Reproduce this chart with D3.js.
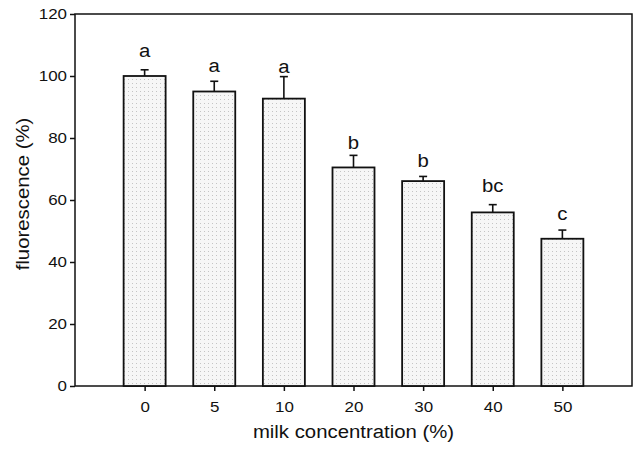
<!DOCTYPE html>
<html>
<head>
<meta charset="utf-8">
<script src="https://cdn.jsdelivr.net/npm/d3@7"></script>
<style>
  body { margin: 0; background: #fff; }
  text { font-family: "Liberation Sans", Arial, sans-serif; fill: #111; }
</style>
</head>
<body>
<div id="chart"></div>
<script>
// data
var concentrations = ["0", "5", "10", "20", "30", "40", "50"];
var fluorescence = [100, 95, 92.7, 70.5, 66.1, 56, 47.5];
var errors = [2, 3.3, 7.1, 3.9, 1.5, 2.5, 2.8];
var letters = ["a", "a", "a", "b", "b", "bc", "c"];
var letterPos = [106, 101.4, 101.1, 76.3, 70.7, 62.7, 53.5];
var yTicks = [0, 20, 40, 60, 80, 100, 120];

var W = 635, H = 454;
var margin = {top: 14, right: 3, bottom: 68, left: 75},
  width = W - margin.left - margin.right,
  height = H - margin.top - margin.bottom;

var svg = d3.select("#chart").append("svg")
  .attr("width", W)
  .attr("height", H);

// dotted grey fill like the printed stipple
var defs = svg.append("defs");
var pat = defs.append("pattern")
  .attr("id", "dots")
  .attr("patternUnits", "userSpaceOnUse")
  .attr("width", 4).attr("height", 4);
pat.append("rect").attr("width", 4).attr("height", 4).attr("fill", "#f6f6f6");
pat.append("rect").attr("x", 1).attr("y", 1).attr("width", 1).attr("height", 1).attr("fill", "#c4c4c4");

var g = svg.append("g")
  .attr("transform", "translate(" + margin.left + "," + margin.top + ")");

var x = d3.scalePoint()
  .domain(concentrations)
  .range([0, width])
  .padding(1);

var y = d3.scaleLinear()
  .domain([0, 120])
  .range([height, 0]);

var barW = 42;

// frame
g.append("rect")
  .attr("width", width).attr("height", height)
  .attr("fill", "none")
  .attr("stroke", "#111")
  .attr("stroke-width", 1.5);

// bars
g.selectAll(".bar")
  .data(fluorescence)
  .enter().append("rect")
  .attr("class", "bar")
  .attr("x", function(d, i) { return x(concentrations[i]) - barW / 2; })
  .attr("y", function(d) { return y(d); })
  .attr("width", barW)
  .attr("height", function(d) { return height - y(d); })
  .attr("fill", "url(#dots)")
  .attr("stroke", "#111")
  .attr("stroke-width", 1.8);

// error bars (upper only)
var eb = g.selectAll(".err")
  .data(fluorescence)
  .enter().append("g")
  .attr("class", "err")
  .attr("stroke", "#111")
  .attr("stroke-width", 1.6);
eb.append("line")
  .attr("x1", function(d, i) { return x(concentrations[i]); })
  .attr("x2", function(d, i) { return x(concentrations[i]); })
  .attr("y1", function(d) { return y(d); })
  .attr("y2", function(d, i) { return y(d + errors[i]); });
eb.append("line")
  .attr("x1", function(d, i) { return x(concentrations[i]) - 4; })
  .attr("x2", function(d, i) { return x(concentrations[i]) + 4; })
  .attr("y1", function(d, i) { return y(d + errors[i]); })
  .attr("y2", function(d, i) { return y(d + errors[i]); });

// significance letters
g.selectAll(".letter")
  .data(letters)
  .enter().append("text")
  .attr("class", "letter")
  .attr("x", function(d, i) { return x(concentrations[i]); })
  .attr("y", function(d, i) { return y(letterPos[i]); })
  .attr("text-anchor", "middle")
  .style("font-size", "18px")
  .text(function(d) { return d; });

// axes
var yAxis = g.append("g")
  .call(d3.axisLeft(y).tickValues(yTicks).tickSize(5).tickPadding(3));
var xAxis = g.append("g")
  .attr("transform", "translate(0," + height + ")")
  .call(d3.axisBottom(x).tickSize(5).tickPadding(10));

[yAxis, xAxis].forEach(function(a) {
  a.select(".domain").remove();
  a.selectAll("line").attr("stroke", "#111").attr("stroke-width", 1.5);
  a.selectAll("text")
    .style("font-size", "15px")
    .style("font-family", "'Liberation Sans', Arial, sans-serif")
    .attr("fill", "#111");
});

// axis titles
svg.append("text")
  .attr("x", margin.left + width / 2)
  .attr("y", 438)
  .attr("text-anchor", "middle")
  .style("font-size", "18px")
  .text("milk concentration (%)");

svg.append("text")
  .attr("transform", "translate(29,194) rotate(-90)")
  .attr("text-anchor", "middle")
  .style("font-size", "18px")
  .text("fluorescence (%)");

// the scanned figure's type is a little wider than Arial
svg.selectAll("text").each(function() {
  var len = this.getComputedTextLength();
  d3.select(this)
    .attr("textLength", len * 1.13)
    .attr("lengthAdjust", "spacingAndGlyphs");
});
</script>
</body>
</html>
